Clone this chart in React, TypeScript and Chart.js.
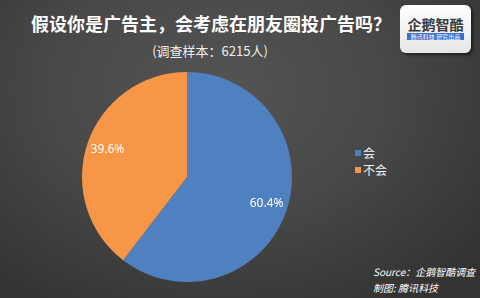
import React, { useEffect, useRef } from "react";
import { Chart, registerables } from "chart.js";

Chart.register(...registerables);

const categories = ["会", "不会"];
const values = [60.4, 39.6];
const colors = ["#4f81c0", "#f79646"];
const titleText = "假设你是广告主，会考虑在朋友圈投广告吗？";
const subtitleText = "(调查样本：6215人)";
const sourceLines = ["Source：企鹅智酷调查", "制图: 腾讯科技"];
const logoName = "企鹅智酷";
const logoTag = "腾讯科技 研究出品";

const pctLabels = {
  id: "pctLabels",
  afterDatasetsDraw(chart: any) {
    const ctx = chart.ctx;
    const meta = chart.getDatasetMeta(0);
    ctx.save();
    ctx.fillStyle = "#ffffff";
    ctx.font = "12px 'Noto Sans', 'DejaVu Sans', sans-serif";
    ctx.textAlign = "center";
    ctx.textBaseline = "middle";
    meta.data.forEach((arc: any, i: number) => {
      const p = arc.getProps(["x", "y", "startAngle", "endAngle", "outerRadius"], true);
      const a = (p.startAngle + p.endAngle) / 2;
      const r = p.outerRadius * 0.8;
      ctx.fillText(values[i].toFixed(1) + "%", p.x + Math.cos(a) * r, p.y + Math.sin(a) * r);
    });
    ctx.restore();
  },
};

export default function App() {
  const ref = useRef<HTMLCanvasElement>(null);
  useEffect(() => {
    document.body.style.margin = "0";
    const chart = new Chart(ref.current!, {
      type: "pie",
      data: {
        labels: categories,
        datasets: [
          {
            data: values,
            backgroundColor: colors,
            borderWidth: 0,
          },
        ],
      },
      options: {
        animation: false,
        responsive: false,
        maintainAspectRatio: false,
        layout: { padding: 0 },
        plugins: {
          legend: { display: false },
          tooltip: { enabled: false },
        },
      },
      plugins: [pctLabels],
    });
    return () => chart.destroy();
  }, []);

  const font = "'Noto Sans CJK SC', 'Noto Sans', sans-serif";
  return (
    <div
      style={{
        position: "absolute",
        left: 0,
        top: 0,
        width: 480,
        height: 298,
        overflow: "hidden",
        background: "radial-gradient(ellipse 70% 85% at 45% 30%, #545454 0%, #484848 50%, #333333 100%)",
        fontFamily: font,
        color: "#ffffff",
      }}
    >
      <div
        style={{
          position: "absolute",
          left: 0,
          width: 422,
          top: 10,
          textAlign: "center",
          fontSize: 18,
          fontWeight: 700,
          lineHeight: "26px",
          whiteSpace: "nowrap",
        }}
      >
        {titleText}
      </div>
      <div
        style={{
          position: "absolute",
          left: 0,
          width: 420,
          top: 41,
          textAlign: "center",
          fontSize: 13,
          lineHeight: "19px",
          color: "#eeeeee",
        }}
      >
        {subtitleText}
      </div>
      <div
        style={{
          position: "absolute",
          left: 400,
          top: 5,
          width: 71,
          height: 48,
          background: "linear-gradient(#ffffff, #e6e6e6)",
          borderRadius: 6,
          boxShadow: "2px 2px 3px rgba(0,0,0,0.5)",
        }}
      >
        <div
          style={{
            position: "absolute",
            left: 3,
            top: 10,
            width: 65,
            textAlign: "center",
            fontSize: 14,
            fontWeight: 700,
            color: "#3a3a3a",
            lineHeight: "18px",
          }}
        >
          {logoName}
        </div>
        <div
          style={{
            position: "absolute",
            left: 7,
            top: 28,
            width: 57,
            height: 7,
            background: "#3a6fd0",
            color: "#ffffff",
            fontSize: 6,
            lineHeight: "7px",
            textAlign: "center",
            whiteSpace: "nowrap",
          }}
        >
          {logoTag}
        </div>
      </div>
      <canvas
        ref={ref}
        width={210}
        height={210}
        style={{ position: "absolute", left: 82, top: 72, width: 210, height: 210 }}
      />
      <div style={{ position: "absolute", left: 355, top: 144, fontSize: 12, lineHeight: "17px", color: "#f0f0f0" }}>
        {categories.map((c, i) => (
          <div key={c} style={{ display: "flex", alignItems: "center" }}>
            <span style={{ display: "inline-block", width: 6, height: 6, background: colors[i], marginRight: 2 }} />
            <span>{c}</span>
          </div>
        ))}
      </div>
      <div
        style={{
          position: "absolute",
          left: 373,
          top: 264,
          fontSize: 10,
          fontStyle: "italic",
          lineHeight: "16px",
          whiteSpace: "nowrap",
        }}
      >
        <div>{sourceLines[0]}</div>
        <div>{sourceLines[1]}</div>
      </div>
    </div>
  );
}
